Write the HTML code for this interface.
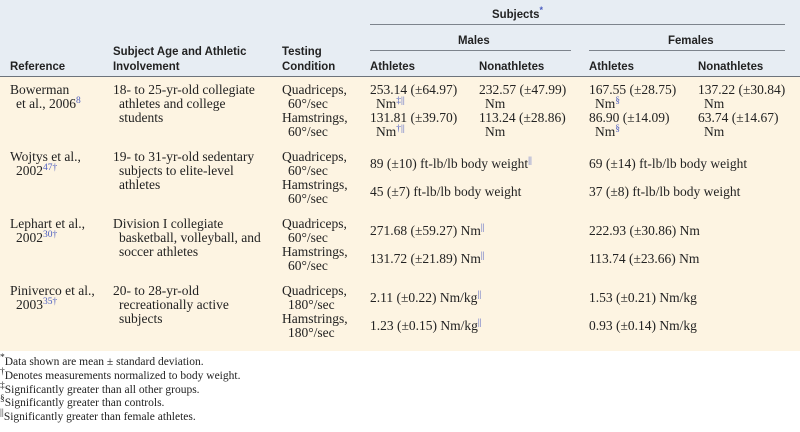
<!DOCTYPE html>
<html><head><meta charset="utf-8"><style>
body{margin:0;width:800px;height:432px;position:relative;background:#fff;overflow:hidden}
#hd{position:absolute;left:0;top:0;width:800px;height:77px;background:#e7edf3}
#bd{position:absolute;left:0;top:77px;width:800px;height:274px;background:#fdf4e2}
.l{position:absolute;height:1px;background:#7d848c}
.h{position:absolute;font:bold 12px "Liberation Sans",sans-serif;color:#222;line-height:14px;white-space:nowrap;transform:scaleX(0.95);transform-origin:left}
.t{position:absolute;font:13.5px "Liberation Serif",serif;color:#222;line-height:14px;white-space:nowrap}
.f{position:absolute;font:11.5px "Liberation Serif",serif;color:#222;line-height:14px;white-space:nowrap}
sup{font-size:9.5px;color:#4a5cc0;vertical-align:5px;line-height:0}
.f sup{color:#222}
</style></head><body>
<div id="hd"></div><div id="bd"></div>
<div class="l" style="left:370px;top:24px;width:415px"></div>
<div class="l" style="left:370px;top:50px;width:201px"></div>
<div class="l" style="left:589px;top:50px;width:196px"></div>
<div class="l" style="left:0;top:76px;width:800px;background:#6d747c"></div>

<div class="h" style="left:492px;top:7px">Subjects<sup>*</sup></div>
<div class="h" style="left:458px;top:33px">Males</div>
<div class="h" style="left:668px;top:33px">Females</div>
<div class="h" style="left:10px;top:59px">Reference</div>
<div class="h" style="left:113px;top:44px">Subject Age and Athletic</div>
<div class="h" style="left:113px;top:59px">Involvement</div>
<div class="h" style="left:282px;top:44px">Testing</div>
<div class="h" style="left:282px;top:59px">Condition</div>
<div class="h" style="left:370px;top:59px">Athletes</div>
<div class="h" style="left:479px;top:59px">Nonathletes</div>
<div class="h" style="left:589px;top:59px">Athletes</div>
<div class="h" style="left:698px;top:59px">Nonathletes</div>

<div class="t" style="left:10px;top:83px">Bowerman</div>
<div class="t" style="left:16px;top:97px">et al., 2006<sup>8</sup></div>
<div class="t" style="left:113px;top:83px">18- to 25-yr-old collegiate</div>
<div class="t" style="left:119px;top:97px">athletes and college</div>
<div class="t" style="left:119px;top:111px">students</div>
<div class="t" style="left:282px;top:83px">Quadriceps,</div>
<div class="t" style="left:288px;top:97px">60°/sec</div>
<div class="t" style="left:282px;top:111px">Hamstrings,</div>
<div class="t" style="left:288px;top:125px">60°/sec</div>
<div class="t" style="left:370px;top:83px">253.14 (±64.97)</div>
<div class="t" style="left:376px;top:97px">Nm<sup>‡||</sup></div>
<div class="t" style="left:370px;top:111px">131.81 (±39.70)</div>
<div class="t" style="left:376px;top:125px">Nm<sup>†||</sup></div>
<div class="t" style="left:479px;top:83px">232.57 (±47.99)</div>
<div class="t" style="left:485px;top:97px">Nm</div>
<div class="t" style="left:479px;top:111px">113.24 (±28.86)</div>
<div class="t" style="left:485px;top:125px">Nm</div>
<div class="t" style="left:589px;top:83px">167.55 (±28.75)</div>
<div class="t" style="left:595px;top:97px">Nm<sup>§</sup></div>
<div class="t" style="left:589px;top:111px">86.90 (±14.09)</div>
<div class="t" style="left:595px;top:125px">Nm<sup>§</sup></div>
<div class="t" style="left:698px;top:83px">137.22 (±30.84)</div>
<div class="t" style="left:704px;top:97px">Nm</div>
<div class="t" style="left:698px;top:111px">63.74 (±14.67)</div>
<div class="t" style="left:704px;top:125px">Nm</div>

<div class="t" style="left:10px;top:150px">Wojtys et al.,</div>
<div class="t" style="left:16px;top:164px">2002<sup>47†</sup></div>
<div class="t" style="left:113px;top:150px">19- to 31-yr-old sedentary</div>
<div class="t" style="left:119px;top:164px">subjects to elite-level</div>
<div class="t" style="left:119px;top:178px">athletes</div>
<div class="t" style="left:282px;top:150px">Quadriceps,</div>
<div class="t" style="left:288px;top:164px">60°/sec</div>
<div class="t" style="left:282px;top:178px">Hamstrings,</div>
<div class="t" style="left:288px;top:192px">60°/sec</div>
<div class="t" style="left:370px;top:157px">89 (±10) ft-lb/lb body weight<sup>||</sup></div>
<div class="t" style="left:370px;top:185px">45 (±7) ft-lb/lb body weight</div>
<div class="t" style="left:589px;top:157px">69 (±14) ft-lb/lb body weight</div>
<div class="t" style="left:589px;top:185px">37 (±8) ft-lb/lb body weight</div>

<div class="t" style="left:10px;top:217px">Lephart et al.,</div>
<div class="t" style="left:16px;top:231px">2002<sup>30†</sup></div>
<div class="t" style="left:113px;top:217px">Division I collegiate</div>
<div class="t" style="left:119px;top:231px">basketball, volleyball, and</div>
<div class="t" style="left:119px;top:245px">soccer athletes</div>
<div class="t" style="left:282px;top:217px">Quadriceps,</div>
<div class="t" style="left:288px;top:231px">60°/sec</div>
<div class="t" style="left:282px;top:245px">Hamstrings,</div>
<div class="t" style="left:288px;top:259px">60°/sec</div>
<div class="t" style="left:370px;top:224px">271.68 (±59.27) Nm<sup>||</sup></div>
<div class="t" style="left:370px;top:252px">131.72 (±21.89) Nm<sup>||</sup></div>
<div class="t" style="left:589px;top:224px">222.93 (±30.86) Nm</div>
<div class="t" style="left:589px;top:252px">113.74 (±23.66) Nm</div>

<div class="t" style="left:10px;top:284px">Piniverco et al.,</div>
<div class="t" style="left:16px;top:298px">2003<sup>35†</sup></div>
<div class="t" style="left:113px;top:284px">20- to 28-yr-old</div>
<div class="t" style="left:119px;top:298px">recreationally active</div>
<div class="t" style="left:119px;top:312px">subjects</div>
<div class="t" style="left:282px;top:284px">Quadriceps,</div>
<div class="t" style="left:288px;top:298px">180°/sec</div>
<div class="t" style="left:282px;top:312px">Hamstrings,</div>
<div class="t" style="left:288px;top:326px">180°/sec</div>
<div class="t" style="left:370px;top:291px">2.11 (±0.22) Nm/kg<sup>||</sup></div>
<div class="t" style="left:370px;top:319px">1.23 (±0.15) Nm/kg<sup>||</sup></div>
<div class="t" style="left:589px;top:291px">1.53 (±0.21) Nm/kg</div>
<div class="t" style="left:589px;top:319px">0.93 (±0.14) Nm/kg</div>

<div class="f" style="left:0;top:355px"><sup>*</sup>Data shown are mean ± standard deviation.</div>
<div class="f" style="left:0;top:369px"><sup>†</sup>Denotes measurements normalized to body weight.</div>
<div class="f" style="left:0;top:383px"><sup>‡</sup>Significantly greater than all other groups.</div>
<div class="f" style="left:0;top:396px"><sup>§</sup>Significantly greater than controls.</div>
<div class="f" style="left:0;top:410px"><sup>||</sup>Significantly greater than female athletes.</div>
</body></html>
